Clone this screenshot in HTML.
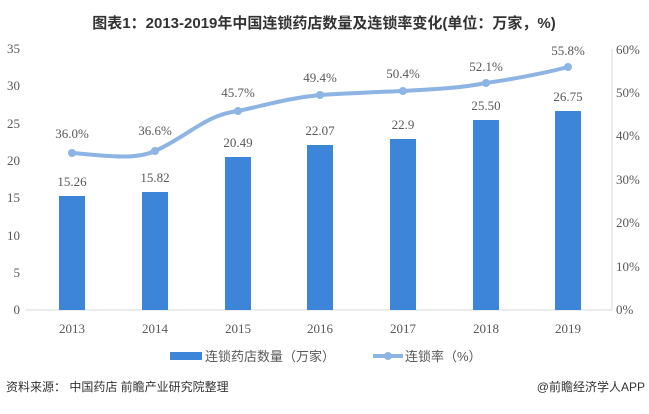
<!DOCTYPE html>
<html><head><meta charset="utf-8"><style>
body{margin:0;background:#fff;width:649px;height:409px;overflow:hidden}
text{font-family:"Liberation Serif","Noto Serif CJK SC",serif;fill:#595959}
.cn{font-family:"Liberation Sans","Noto Sans CJK SC",sans-serif}
</style></head><body>
<svg width="649" height="409" viewBox="0 0 649 409">
<text x="324" y="28" text-anchor="middle" class="cn" style="font-size:15px;font-weight:bold;fill:#333">图表1：2013-2019年中国连锁药店数量及连锁率变化(单位：万家，%)</text>
<g font-size="13" text-anchor="end">
<text x="20" y="314">0</text><text x="20" y="277">5</text><text x="20" y="240">10</text><text x="20" y="202">15</text><text x="20" y="165">20</text><text x="20" y="128">25</text><text x="20" y="90">30</text><text x="20" y="53">35</text>
</g>
<g font-size="13" text-anchor="start">
<text x="616" y="314">0%</text><text x="616" y="271">10%</text><text x="616" y="227">20%</text><text x="616" y="184">30%</text><text x="616" y="140">40%</text><text x="616" y="97">50%</text><text x="616" y="54">60%</text>
</g>
<line x1="26" y1="310" x2="612" y2="310" stroke="#d9d9d9"/>
<line x1="612" y1="49" x2="612" y2="310" stroke="#d9d9d9"/>
<g fill="#3d85d8">
<rect x="59" y="196" width="26" height="114"/>
<rect x="142" y="192" width="26" height="118"/>
<rect x="225" y="157" width="26" height="153"/>
<rect x="307" y="145" width="26" height="165"/>
<rect x="390" y="139" width="26" height="171"/>
<rect x="473" y="120" width="26" height="190"/>
<rect x="555" y="111" width="26" height="199"/>
</g>
<g font-size="13" text-anchor="middle">
<text x="72" y="186">15.26</text><text x="155" y="182">15.82</text><text x="238" y="147">20.49</text><text x="320" y="135">22.07</text><text x="403" y="129">22.9</text><text x="486" y="110">25.50</text><text x="568" y="101">26.75</text>
<text x="72" y="138">36.0%</text><text x="155" y="135">36.6%</text><text x="238" y="97">45.7%</text><text x="320" y="82">49.4%</text><text x="403" y="78">50.4%</text><text x="486" y="71">52.1%</text><text x="568" y="55">55.8%</text>
</g>
<path d="M72 153 C110 156,135 160,155 151 C190 135,205 115,238 111 C270 104,290 98,320 95 C350 93,380 92,403 91 C440 89,460 88,486 83 C520 78,545 73,568 67" fill="none" stroke="#8db4e2" stroke-width="4"/>
<g fill="#8db4e2"><circle cx="72" cy="153" r="4"/><circle cx="155" cy="151" r="4"/><circle cx="238" cy="111" r="4"/><circle cx="320" cy="95" r="4"/><circle cx="403" cy="91" r="4"/><circle cx="486" cy="83" r="4"/><circle cx="568" cy="67" r="4"/></g>
<g font-size="13" text-anchor="middle">
<text x="72" y="333">2013</text><text x="155" y="333">2014</text><text x="238" y="333">2015</text><text x="320" y="333">2016</text><text x="403" y="333">2017</text><text x="486" y="333">2018</text><text x="568" y="333">2019</text>
</g>
<rect x="170" y="352" width="32" height="8" fill="#3d85d8"/>
<text x="205" y="361" class="cn" font-size="13">连锁药店数量（万家）</text>
<line x1="373" y1="356" x2="403" y2="356" stroke="#8db4e2" stroke-width="4"/><circle cx="388" cy="356" r="4" fill="#8db4e2"/>
<text x="405" y="361" class="cn" font-size="13">连锁率（%）</text>
<text x="6" y="391" class="cn" font-size="12" style="fill:#333">资料来源： 中国药店 前瞻产业研究院整理</text>
<text x="645" y="391" class="cn" font-size="12" text-anchor="end" style="fill:#333">@前瞻经济学人APP</text>
</svg>
</body></html>
